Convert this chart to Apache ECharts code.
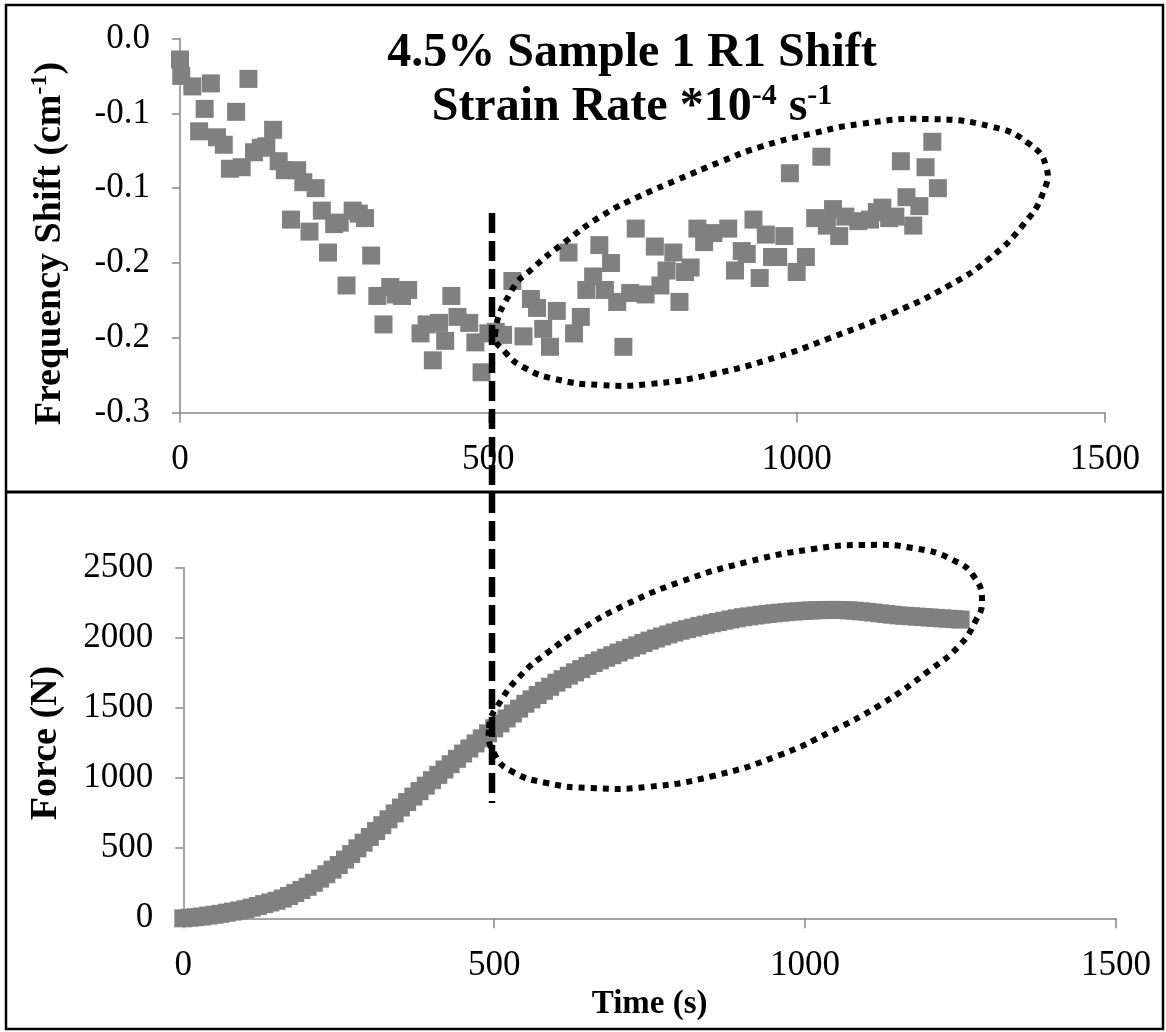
<!DOCTYPE html>
<html><head><meta charset="utf-8">
<script src="https://cdn.jsdelivr.net/npm/echarts@6/dist/echarts.min.js"></script>
<style>html,body{margin:0;padding:0;background:#fff}#c{width:1166px;height:1032px}</style>
</head><body><div id="c"></div>
<script>
// ---- Data ----
const shiftTime = [0,2,20,31,40,50,60,71,81,91,100,111,120,131,140,151,160,170,180,190,200,210,220,230,240,250,259,270,280,290,300,310,320,330,341,350,360,370,390,400,410,420,430,440,450,469,479,489,500,512,524,539,557,569,579,589,600,611,630,639,650,659,670,680,689,699,709,719,730,739,755,770,779,789,800,810,819,828,839,850,865,889,900,911,919,930,940,950,960,970,980,989,1000,1015,1030,1040,1049,1059,1069,1079,1100,1119,1130,1139,1150,1160,1169,1178,1189,1199,1209,1220,1229];
const shiftValue = [-0.014,-0.025,-0.032,-0.062,-0.047,-0.030,-0.066,-0.071,-0.087,-0.049,-0.086,-0.027,-0.076,-0.073,-0.072,-0.061,-0.082,-0.088,-0.121,-0.088,-0.096,-0.129,-0.100,-0.115,-0.143,-0.124,-0.123,-0.165,-0.115,-0.117,-0.120,-0.145,-0.172,-0.191,-0.166,-0.171,-0.172,-0.168,-0.197,-0.191,-0.215,-0.190,-0.202,-0.172,-0.186,-0.190,-0.203,-0.223,-0.197,-0.196,-0.198,-0.162,-0.199,-0.174,-0.180,-0.194,-0.206,-0.182,-0.143,-0.197,-0.186,-0.168,-0.159,-0.138,-0.168,-0.150,-0.176,-0.206,-0.170,-0.127,-0.171,-0.139,-0.165,-0.155,-0.143,-0.176,-0.156,-0.153,-0.127,-0.136,-0.130,-0.127,-0.155,-0.142,-0.144,-0.121,-0.160,-0.131,-0.146,-0.146,-0.132,-0.090,-0.156,-0.146,-0.120,-0.079,-0.125,-0.114,-0.132,-0.119,-0.122,-0.121,-0.116,-0.113,-0.120,-0.119,-0.082,-0.106,-0.125,-0.112,-0.086,-0.069,-0.100];

const forceTime = [0,10,20,30,40,50,60,70,80,90,100,110,120,130,140,150,160,170,180,190,200,210,220,230,240,250,260,270,280,290,300,310,320,330,340,350,360,370,380,390,400,410,420,430,440,450,460,470,480,490,500,510,520,530,540,550,560,570,580,590,600,610,620,630,640,650,660,670,680,690,700,710,720,730,740,750,760,770,780,790,800,810,820,830,840,850,860,870,880,890,900,910,920,930,940,950,960,970,980,990,1000,1010,1020,1030,1040,1050,1060,1070,1080,1090,1100,1110,1120,1130,1140,1150,1160,1170,1180,1190,1200,1210,1220,1230,1240,1250];
const forceValue = [0,4,8,13,19,25,32,40,48,56,65,76,88,101,113,125,141,159,180,202,225,253,283,314,347,380,419,458,499,539,580,622,664,706,748,790,829,868,907,946,985,1023,1061,1099,1137,1175,1211,1247,1283,1319,1355,1390,1425,1460,1495,1530,1561,1592,1622,1651,1680,1705,1730,1754,1777,1800,1820,1839,1858,1876,1895,1912,1929,1946,1963,1980,1995,2010,2024,2038,2051,2062,2073,2084,2094,2104,2113,2122,2131,2139,2147,2153,2159,2165,2170,2175,2179,2183,2187,2190,2193,2195,2197,2198,2199,2199,2198,2196,2193,2189,2185,2180,2175,2170,2165,2160,2157,2154,2151,2148,2145,2142,2139,2136,2133,2130];

const shiftTickLabels = ['0.0','-0.1','-0.1','-0.2','-0.2','-0.3'];

// ---- Styles ----
const FONT = 'Liberation Serif';
const AXIS_GRAY = '#868686';
const MARK_GRAY = '#808080';

const axisCommon = {
  axisLine: {show: true, onZero: false, lineStyle: {color: AXIS_GRAY, width: 1.5}},
  axisTick: {show: true, length: 10, lineStyle: {color: AXIS_GRAY, width: 1.5}},
  splitLine: {show: false}
};
const yTick = {axisTick: {show: true, length: 8, lineStyle: {color: AXIS_GRAY, width: 1.5}}};
const labelStyle = {color: '#000', fontFamily: FONT, fontSize: 35};
const plain = function (v) { return String(v); };

const chart = echarts.init(document.getElementById('c'), null, {renderer: 'canvas'});

const topEllipse = [[495,335],[512,290],[533,268],[565,242],[603,215],[640,196],[677,180],[720,162],[760,147],[810,134],[860,124],[927,119],[993,127],[1028,143],[1046,166],[1043,193],[1023,225],[990,258],[950,285],[893,313],[830,338],[777,357],[713,374],[650,384],[600,385],[555,379],[525,368],[505,352]];
const bottomEllipse = [[489,728],[500,702],[523,673],[547,653],[580,630],[623,606],[680,582],[747,562],[813,549],[863,545],[913,548],[953,560],[975,578],[982,602],[975,622],[960,645],[930,670],[880,705],[830,732],[780,755],[713,776],[647,787],[590,788],[547,783],[513,772],[495,755]];

const option = {
  animation: false,
  backgroundColor: '#fff',
  grid: [
    {left: 180, right: 61, top: 38.5, bottom: 619.3, outerBoundsMode: 'none'},
    {left: 183.3, right: 50, top: 567.7, bottom: 113.7, outerBoundsMode: 'none'}
  ],
  xAxis: [
    Object.assign({type: 'value', gridIndex: 0, min: 0, max: 1500, interval: 500,
      axisLabel: Object.assign({margin: 30, formatter: plain}, labelStyle)}, axisCommon),
    Object.assign({type: 'value', gridIndex: 1, min: 0, max: 1500, interval: 500,
      axisLabel: Object.assign({margin: 30, formatter: plain}, labelStyle),
      name: 'Time (s)', nameLocation: 'middle', nameGap: 70,
      nameTextStyle: {color: '#000', fontFamily: FONT, fontWeight: 'bold', fontSize: 33}}, axisCommon)
  ],
  yAxis: [
    Object.assign({type: 'value', gridIndex: 0, min: -0.25, max: 0, interval: 0.05,
      axisLabel: Object.assign({margin: 30, formatter: function (v) { return shiftTickLabels[Math.round(-v / 0.05)]; }}, labelStyle),
      name: '{a|Frequency Shift (cm}{b|-1}{a|)}', nameLocation: 'middle', nameGap: 108, nameRotate: 90,
      nameTextStyle: {color: '#000', fontFamily: FONT, fontWeight: 'bold', fontSize: 38, padding: [0, 36, 0, 0],
        rich: {
          a: {fontFamily: FONT, fontWeight: 'bold', fontSize: 38, color: '#000', lineHeight: 44},
          b: {fontFamily: FONT, fontWeight: 'bold', fontSize: 24, color: '#000', lineHeight: 24, verticalAlign: 'top'}
        }}}, axisCommon, yTick),
    Object.assign({type: 'value', gridIndex: 1, min: 0, max: 2500, interval: 500,
      axisLabel: Object.assign({margin: 30, formatter: plain}, labelStyle),
      name: 'Force (N)', nameLocation: 'middle', nameGap: 118, nameRotate: 90,
      nameTextStyle: {color: '#000', fontFamily: FONT, fontWeight: 'bold', fontSize: 38}}, axisCommon, yTick)
  ],
  series: [
    {type: 'scatter', xAxisIndex: 0, yAxisIndex: 0, symbol: 'rect', symbolSize: 18,
      itemStyle: {color: MARK_GRAY, opacity: 1}, emphasis: {disabled: true},
      data: shiftTime.map(function (t, i) { return [t, shiftValue[i]]; })},
    {type: 'scatter', xAxisIndex: 1, yAxisIndex: 1, symbol: 'rect', symbolSize: 18,
      itemStyle: {color: MARK_GRAY, opacity: 1}, emphasis: {disabled: true},
      data: forceTime.map(function (t, i) { return [t, forceValue[i]]; })}
  ],
  graphic: [
    {type: 'rect', z: 100, silent: true, shape: {x: 6, y: 5, width: 1157, height: 1024},
      style: {fill: 'none', stroke: '#000', lineWidth: 2.5}},
    {type: 'line', z: 100, silent: true, shape: {x1: 6, y1: 492, x2: 1163, y2: 492},
      style: {stroke: '#000', lineWidth: 3}},
    {type: 'line', z: 101, silent: true, shape: {x1: 492, y1: 213, x2: 492, y2: 803},
      style: {stroke: '#000', lineWidth: 6.5, lineDash: [20, 8]}},
    {type: 'polygon', z: 101, silent: true, shape: {points: topEllipse, smooth: 0.5},
      style: {fill: 'none', stroke: '#000', lineWidth: 6, lineDash: [6, 6]}},
    {type: 'polygon', z: 101, silent: true, shape: {points: bottomEllipse, smooth: 0.5},
      style: {fill: 'none', stroke: '#000', lineWidth: 6, lineDash: [6, 6]}},
    {type: 'text', z: 102, silent: true,
      style: {
        x: 632, y: 27, align: 'center', verticalAlign: 'top',
        text: '{n|4.5% Sample 1 R1 Shift}\n{n|Strain Rate *10}{s|-4}{n| s}{s|-1}',
        fill: '#000', fontFamily: FONT, fontWeight: 'bold', fontSize: 48,
        rich: {
          n: {fontFamily: FONT, fontWeight: 'bold', fontSize: 48, lineHeight: 54, fill: '#000'},
          s: {fontFamily: FONT, fontWeight: 'bold', fontSize: 30, lineHeight: 30, verticalAlign: 'top', fill: '#000'}
        }
      }}
  ]
};
chart.setOption(option);
</script>
</body></html>
